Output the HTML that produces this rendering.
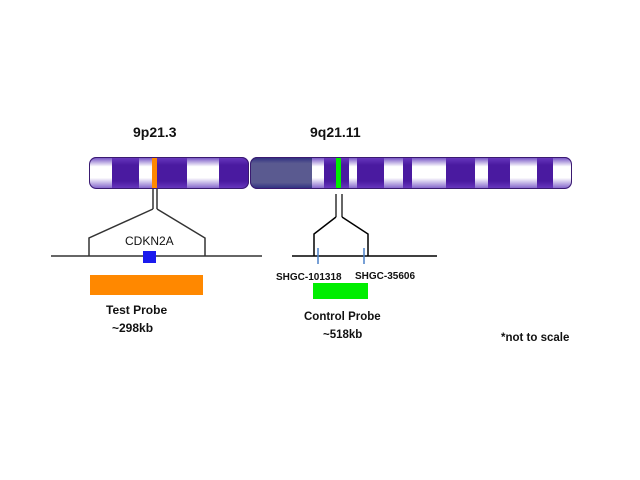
<!DOCTYPE html>
<html><head><meta charset="utf-8"><style>
html,body{margin:0;padding:0;background:#fff;width:640px;height:480px;overflow:hidden}
text{font-family:"Liberation Sans","DejaVu Sans",sans-serif;font-weight:bold;fill:#111}
</style></head><body>
<svg width="640" height="480" viewBox="0 0 640 480" xmlns="http://www.w3.org/2000/svg">
<defs>
<linearGradient id="w" x1="0" y1="0" x2="0" y2="1">
<stop offset="0" stop-color="#6a45c0"/><stop offset="0.3" stop-color="#fff"/><stop offset="0.65" stop-color="#fff"/><stop offset="1" stop-color="#7a5ac8"/></linearGradient>
<linearGradient id="d" x1="0" y1="0" x2="0" y2="1">
<stop offset="0" stop-color="#6a3ac0"/><stop offset="0.25" stop-color="#4a1aa0"/><stop offset="0.75" stop-color="#4a1aa0"/><stop offset="1" stop-color="#6a3ac0"/></linearGradient>
<linearGradient id="g" x1="0" y1="0" x2="0" y2="1">
<stop offset="0" stop-color="#2a2a80"/><stop offset="0.2" stop-color="#5a5a90"/><stop offset="0.8" stop-color="#5a5a90"/><stop offset="1" stop-color="#2a2a80"/></linearGradient>
<clipPath id="c1"><rect x="89" y="157" width="160" height="32" rx="7"/></clipPath>
<clipPath id="c2"><rect x="250" y="157" width="322" height="32" rx="7"/></clipPath>
</defs>
<text x="133" y="137" font-size="14">9p21.3</text>
<text x="310" y="137" font-size="14">9q21.11</text>
<g clip-path="url(#c1)">
<rect x="89" y="157" width="23" height="32" fill="url(#w)"/>
<rect x="112" y="157" width="27" height="32" fill="url(#d)"/>
<rect x="139" y="157" width="13" height="32" fill="url(#w)"/>
<rect x="152" y="157" width="5" height="32" fill="#ff8800"/>
<rect x="157" y="157" width="30" height="32" fill="url(#d)"/>
<rect x="187" y="157" width="32" height="32" fill="url(#w)"/>
<rect x="219" y="157" width="30" height="32" fill="url(#d)"/>
</g>
<rect x="89.5" y="157.5" width="159" height="31" rx="7" fill="none" stroke="#3a1a70" stroke-width="1"/>
<g clip-path="url(#c2)">
<rect x="250" y="157" width="62" height="32" fill="url(#g)"/>
<rect x="312" y="157" width="12" height="32" fill="url(#w)"/>
<rect x="324" y="157" width="12" height="32" fill="url(#d)"/>
<rect x="336" y="157" width="5" height="32" fill="#00ee00"/>
<rect x="341" y="157" width="8" height="32" fill="url(#d)"/>
<rect x="349" y="157" width="8" height="32" fill="url(#w)"/>
<rect x="357" y="157" width="27" height="32" fill="url(#d)"/>
<rect x="384" y="157" width="19" height="32" fill="url(#w)"/>
<rect x="403" y="157" width="9" height="32" fill="url(#d)"/>
<rect x="412" y="157" width="34" height="32" fill="url(#w)"/>
<rect x="446" y="157" width="29" height="32" fill="url(#d)"/>
<rect x="475" y="157" width="13" height="32" fill="url(#w)"/>
<rect x="488" y="157" width="22" height="32" fill="url(#d)"/>
<rect x="510" y="157" width="27" height="32" fill="url(#w)"/>
<rect x="537" y="157" width="16" height="32" fill="url(#d)"/>
<rect x="553" y="157" width="19" height="32" fill="url(#w)"/>
</g>
<rect x="250.5" y="157.5" width="321" height="31" rx="7" fill="none" stroke="#3a1a70" stroke-width="1"/>
<g stroke="#333" stroke-width="1.5" fill="none">
<line x1="153" y1="189" x2="153" y2="209"/><line x1="157" y1="189" x2="157" y2="209"/>
<polyline points="153,209 89,238 89,256"/><polyline points="157,209 205,238 205,256"/>
<line x1="51" y1="256" x2="262" y2="256"/>
<line x1="336" y1="194" x2="336" y2="217"/><line x1="342" y1="194" x2="342" y2="217"/>
<polyline points="336,217 314,234 314,256" stroke="#000"/><polyline points="342,217 368,234 368,256" stroke="#000"/>
<line x1="292" y1="256" x2="437" y2="256" stroke="#000"/>
</g>
<rect x="143" y="251" width="13" height="12" fill="#1a1aee"/>
<line x1="318" y1="248" x2="318" y2="264" stroke="#4a80c8" stroke-width="1.5"/>
<line x1="364" y1="248" x2="364" y2="264" stroke="#4a80c8" stroke-width="1.5"/>
<text x="125" y="245" font-size="12" style="font-weight:normal">CDKN2A</text>
<rect x="90" y="275" width="113" height="20" fill="#ff8800"/>
<text x="106" y="314" font-size="12">Test Probe</text>
<text x="112" y="332" font-size="12">~298kb</text>
<text x="276" y="280" font-size="10">SHGC-101318</text>
<text x="355" y="279" font-size="10">SHGC-35606</text>
<rect x="313" y="283" width="55" height="16" fill="#00ee00"/>
<text x="304" y="320" font-size="11.5">Control Probe</text>
<text x="323" y="338" font-size="11.5">~518kb</text>
<text x="501" y="341" font-size="11.5">*not to scale</text>
</svg>
</body></html>
